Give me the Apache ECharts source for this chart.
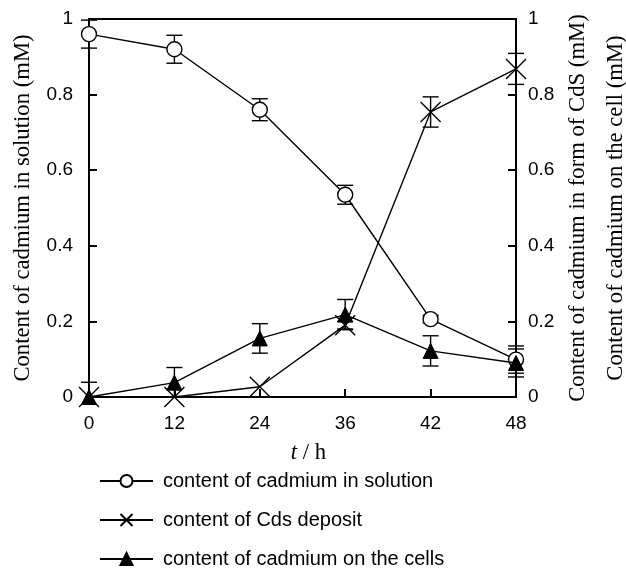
<!DOCTYPE html>
<html>
<head>
<meta charset="utf-8">
<script src="https://cdn.jsdelivr.net/npm/echarts@6/dist/echarts.min.js"></script>
<style>html,body{margin:0;padding:0;background:#fff;}#chart{width:626px;height:570px;}</style>
</head>
<body>
<div id="chart"></div>
<script>
const categories = ['0', '12', '24', '36', '42', '48'];
const solution = [0.96, 0.92, 0.76, 0.535, 0.206, 0.099];
const solutionErr = [0.037, 0.037, 0.029, 0.025, 0.01, 0.036];
const cds = [0, 0, 0.027, 0.19, 0.754, 0.868];
const cdsErr = [0, 0, 0, 0.01, 0.04, 0.041];
const cells = [0, 0.038, 0.155, 0.218, 0.122, 0.09];
const cellsErr = [0.039, 0.04, 0.039, 0.04, 0.04, 0.037];
const yTicks = [0, 0.2, 0.4, 0.6, 0.8, 1];
const seriesNames = ['content of cadmium in solution', 'content of Cds deposit', 'content of cadmium on the cells'];

const sans = "'Liberation Sans', Arial, sans-serif";
const serif = "'Liberation Serif', 'Times New Roman', serif";
const crossPath = 'path://M0,0L10,10M10,0L0,10';

function errSeries(vals, errs) {
  return {
    type: 'custom',
    z: 1,
    silent: true,
    encode: { x: 0, y: 1 },
    data: vals.map((v, i) => [i, v, errs[i]]),
    renderItem: function (params, api) {
      const x = api.value(0), y = api.value(1), e = api.value(2);
      if (!e) return null;
      const hi = api.coord([x, y + e]);
      const loVal = Math.max(0, y - e);
      const lo = api.coord([x, loVal]);
      const hw = 8;
      const st = { stroke: '#000', lineWidth: 1.4 };
      const children = [
        { type: 'line', shape: { x1: hi[0], y1: hi[1], x2: lo[0], y2: lo[1] }, style: st },
        { type: 'line', shape: { x1: hi[0] - hw, y1: hi[1], x2: hi[0] + hw, y2: hi[1] }, style: st }
      ];
      if (y - e >= 0) {
        children.push({ type: 'line', shape: { x1: lo[0] - hw, y1: lo[1], x2: lo[0] + hw, y2: lo[1] }, style: st });
      }
      return { type: 'group', children: children };
    }
  };
}

const chart = echarts.init(document.getElementById('chart'));
const yAxisBase = {
  type: 'value', min: 0, max: 1, interval: 0.2,
  axisLine: { show: true, lineStyle: { color: '#000', width: 2 } },
  axisTick: { show: true, inside: true, length: 8, lineStyle: { color: '#000', width: 2 } },
  splitLine: { show: false },
  axisLabel: {
    color: '#000', fontFamily: sans, fontSize: 19,
    formatter: function (v) { const t = yTicks.find(k => Math.abs(k - v) < 1e-9); return t === undefined ? '' : String(t); }
  }
};

chart.setOption({
  animation: false,
  backgroundColor: '#fff',
  grid: { left: 89, right: 110, top: 19, bottom: 173, outerBoundsMode: 'none', containLabel: false, show: true, borderColor: '#000', borderWidth: 2, backgroundColor: 'transparent' },
  legend: {
    orient: 'vertical', left: 94, top: 466, height: 140, itemGap: 19,
    itemWidth: 53, itemHeight: 15,
    data: seriesNames,
    textStyle: { color: '#000', fontFamily: sans, fontSize: 20, padding: [0, 0, 0, 5] }
  },
  xAxis: {
    type: 'category', data: categories, boundaryGap: false,
    axisLine: { show: true, lineStyle: { color: '#000', width: 2 } },
    axisTick: { show: true, inside: true, length: 8, alignWithLabel: true, lineStyle: { color: '#000', width: 2 } },
    axisLabel: { color: '#000', fontFamily: sans, fontSize: 19, margin: 17 },
    splitLine: { show: false },
    name: '{i|t} / h', nameLocation: 'middle', nameGap: 45, nameMoveOverlap: false,
    nameTextStyle: {
      color: '#000', fontFamily: serif, fontSize: 22.7, padding: [0, 0, 0, 12],
      rich: { i: { fontStyle: 'italic', fontFamily: serif, fontSize: 22.7, color: '#000' } }
    }
  },
  yAxis: [
    Object.assign({}, yAxisBase, {
      position: 'left',
      axisLabel: Object.assign({}, yAxisBase.axisLabel, { margin: 16 }),
      name: 'Content of cadmium in solution (mM)', nameLocation: 'middle', nameRotate: 90, nameGap: 54, nameMoveOverlap: false,
      nameTextStyle: { color: '#000', fontFamily: serif, fontSize: 22.7 }
    }),
    Object.assign({}, yAxisBase, {
      position: 'right',
      axisLabel: Object.assign({}, yAxisBase.axisLabel, { margin: 12 }),
      name: 'Content of cadmium in form of CdS (mM)\nContent of cadmium on the cell (mM)',
      nameLocation: 'middle', nameRotate: 90, nameGap: 43, nameMoveOverlap: false,
      nameTextStyle: { color: '#000', fontFamily: serif, fontSize: 22.7, lineHeight: 38 }
    })
  ],
  series: [
    errSeries(solution, solutionErr),
    errSeries(cds, cdsErr),
    errSeries(cells, cellsErr),
    {
      name: seriesNames[0], type: 'line', z: 3, data: solution,
      symbol: 'circle', symbolSize: 15, showAllSymbol: true,
      lineStyle: { color: '#000', width: 1.4 },
      itemStyle: { color: '#fff', borderColor: '#000', borderWidth: 1.4 }
    },
    {
      name: seriesNames[1], type: 'line', z: 4, data: cds,
      symbol: crossPath, symbolSize: 20, showAllSymbol: true,
      lineStyle: { color: '#000', width: 1.4 },
      itemStyle: { color: '#000', borderColor: '#000', borderWidth: 1.4 }
    },
    {
      name: seriesNames[2], type: 'line', z: 5, data: cells,
      symbol: 'triangle', symbolSize: 15, showAllSymbol: true,
      lineStyle: { color: '#000', width: 1.4 },
      itemStyle: { color: '#000', borderColor: '#000', borderWidth: 1 }
    }
  ]
});
</script>
</body>
</html>
